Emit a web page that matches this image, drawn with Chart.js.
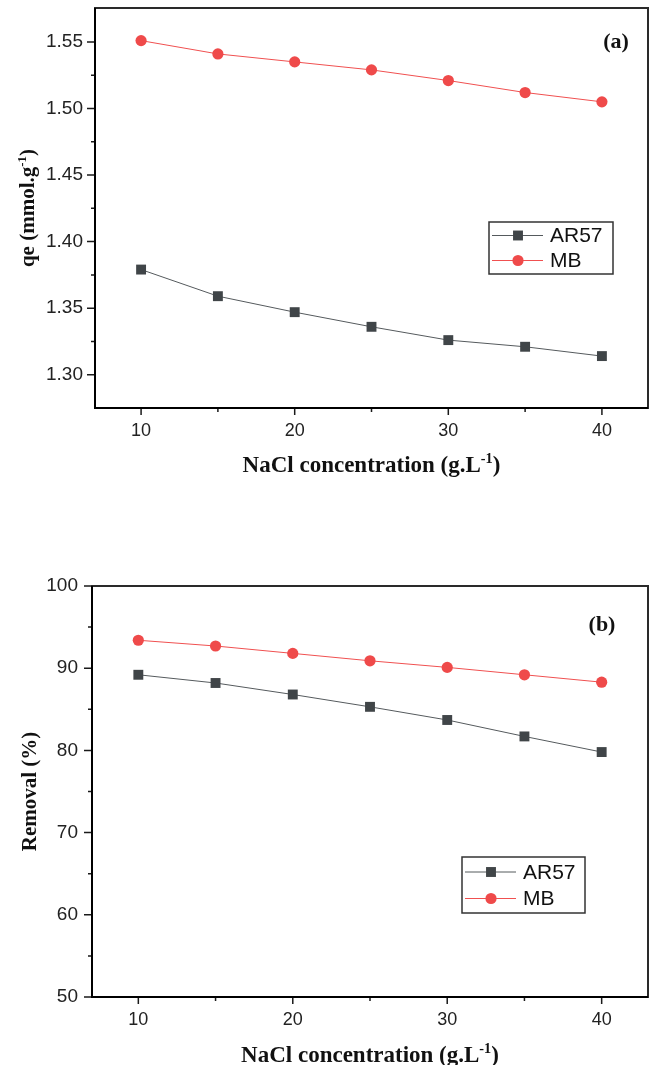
<!DOCTYPE html>
<html>
<head>
<meta charset="utf-8">
<script src="https://cdn.jsdelivr.net/npm/chart.js@4/dist/chart.umd.min.js"></script>
<style>
  body { margin: 0; background: #fff; }
  .panel { position: absolute; left: 0; width: 655px; }
</style>
</head>
<body>
<div class="panel" style="top:0;height:490px"><canvas id="chart-qe" width="655" height="490"></canvas></div>
<div class="panel" style="top:560px;height:505px"><canvas id="chart-removal" width="655" height="505"></canvas></div>
<script>
// NaCl concentration (g/L)
var nacl = [10, 15, 20, 25, 30, 35, 40];
// adsorption capacity qe (mmol/g)
var qeAR57 = [1.379, 1.359, 1.347, 1.336, 1.326, 1.321, 1.314];
var qeMB = [1.551, 1.541, 1.535, 1.529, 1.521, 1.512, 1.505];
// removal (%)
var removalAR57 = [89.2, 88.2, 86.8, 85.3, 83.7, 81.7, 79.8];
var removalMB = [93.4, 92.7, 91.8, 90.9, 90.1, 89.2, 88.3];

var xTicks = [10, 20, 30, 40];
var xMinor = [15, 25, 35];
var qeTicks = [1.30, 1.35, 1.40, 1.45, 1.50, 1.55];
var qeMinor = [1.325, 1.375, 1.425, 1.475, 1.525];
var removalTicks = [50, 60, 70, 80, 90, 100];
var removalMinor = [55, 65, 75, 85, 95];

var SANS = "'Liberation Sans', Arial, sans-serif";
var SERIF = "'Liberation Serif', 'Times New Roman', serif";

// text with a raised "-1" part
function drawRich(ctx, parts, size) {
  var widths = parts.map(function (p) {
    ctx.font = "bold " + (p.sup ? size * 0.62 : size) + "px " + SERIF;
    return ctx.measureText(p.t).width;
  });
  var total = widths.reduce(function (a, b) { return a + b; }, 0);
  var x = -total / 2;
  parts.forEach(function (p, i) {
    ctx.font = "bold " + (p.sup ? size * 0.62 : size) + "px " + SERIF;
    ctx.fillText(p.t, x, p.sup ? -size * 0.38 : 0);
    x += widths[i];
  });
}

var decorations = {
  id: "decorations",
  afterDraw: function (chart, args, o) {
    var ctx = chart.ctx, a = chart.chartArea;
    var xs = chart.scales.x, ys = chart.scales.y;
    ctx.save();

    // tick marks
    ctx.strokeStyle = "#1a1a1a";
    ctx.lineWidth = 1.5;
    ctx.beginPath();
    o.xMajor.forEach(function (v) { var p = xs.getPixelForValue(v); ctx.moveTo(p, a.bottom); ctx.lineTo(p, a.bottom + 7); });
    o.xMinor.forEach(function (v) { var p = xs.getPixelForValue(v); ctx.moveTo(p, a.bottom); ctx.lineTo(p, a.bottom + 4); });
    o.yMajor.forEach(function (v) { var p = ys.getPixelForValue(v); ctx.moveTo(a.left, p); ctx.lineTo(a.left - 8, p); });
    o.yMinor.forEach(function (v) { var p = ys.getPixelForValue(v); ctx.moveTo(a.left, p); ctx.lineTo(a.left - 4, p); });
    ctx.stroke();

    // frame
    ctx.lineWidth = 2;
    ctx.strokeStyle = "#2a2a2a";
    ctx.strokeRect(a.left, a.top, a.right - a.left, a.bottom - a.top);
    ctx.strokeStyle = "#000";
    ctx.beginPath();
    ctx.moveTo(a.left, a.top); ctx.lineTo(a.left, a.bottom); ctx.lineTo(a.right, a.bottom);
    ctx.stroke();

    // axis titles
    ctx.fillStyle = "#111";
    ctx.textBaseline = "alphabetic";
    ctx.textAlign = "left";
    ctx.save();
    ctx.translate((a.left + a.right) / 2, a.bottom + o.xTitleGap);
    drawRich(ctx, o.xTitle, o.xTitleSize);
    ctx.restore();
    ctx.save();
    ctx.translate(o.yTitleX, (a.top + a.bottom) / 2);
    ctx.rotate(-Math.PI / 2);
    drawRich(ctx, o.yTitle, o.yTitleSize);
    ctx.restore();

    // panel letter
    ctx.font = "bold 22px " + SERIF;
    ctx.textAlign = "center";
    ctx.fillText(o.letter.text, o.letter.x, o.letter.y);

    // legend
    var L = o.legend;
    ctx.fillStyle = "#fff";
    ctx.fillRect(L.x, L.y, L.w, L.h);
    ctx.lineWidth = 1.5;
    ctx.strokeStyle = "#333";
    ctx.strokeRect(L.x, L.y, L.w, L.h);
    chart.data.datasets.forEach(function (ds, i) {
      var cy = L.y + L.first + i * L.row;
      ctx.strokeStyle = ds.borderColor;
      ctx.lineWidth = 1;
      ctx.beginPath();
      ctx.moveTo(L.x + 3, cy); ctx.lineTo(L.x + 54, cy);
      ctx.stroke();
      ctx.fillStyle = ds.pointBackgroundColor;
      var mx = L.x + 29;
      if (ds.pointStyle === "rect") {
        var s = ds.pointRadius * Math.SQRT1_2;
        ctx.fillRect(mx - s, cy - s, 2 * s, 2 * s);
      } else {
        ctx.beginPath();
        ctx.arc(mx, cy, ds.pointRadius, 0, Math.PI * 2);
        ctx.fill();
      }
      ctx.fillStyle = "#111";
      ctx.font = "21px " + SANS;
      ctx.textAlign = "left";
      ctx.textBaseline = "middle";
      ctx.fillText(ds.label, L.x + 61, cy + 1);
    });
    ctx.restore();
  }
};

function series(label, values, kind) {
  var red = kind === "MB";
  return {
    label: label,
    data: nacl.map(function (c, i) { return { x: c, y: values[i] }; }),
    borderColor: red ? "#f05050" : "#555a5d",
    borderWidth: 1,
    pointStyle: red ? "circle" : "rect",
    pointRadius: red ? 5.6 : 7,
    pointHoverRadius: red ? 5.6 : 7,
    pointBackgroundColor: red ? "#ef4a4a" : "#404548",
    pointBorderWidth: 0,
    tension: 0
  };
}

function makeChart(id, cfg) {
  return new Chart(document.getElementById(id), {
    type: "line",
    data: { datasets: [series("AR57", cfg.ar57, "AR57"), series("MB", cfg.mb, "MB")] },
    plugins: [decorations],
    options: {
      responsive: false,
      animation: false,
      layout: { padding: { top: cfg.padTop, right: cfg.padRight, left: 0, bottom: 0 } },
      plugins: {
        legend: { display: false },
        tooltip: { enabled: false },
        decorations: cfg.deco
      },
      scales: {
        x: {
          type: "linear", min: 7, max: 43,
          grid: { display: false, drawTicks: false },
          border: { display: false },
          afterBuildTicks: function (s) { s.ticks = xTicks.map(function (v) { return { value: v }; }); },
          afterFit: function (s) { s.height = cfg.xHeight; s.paddingLeft = 0; s.paddingRight = 0; },
          ticks: { padding: cfg.xPad, color: "#222", font: { family: SANS, size: 18 }, maxRotation: 0 }
        },
        y: {
          type: "linear", min: cfg.yMin, max: cfg.yMax,
          grid: { display: false, drawTicks: false },
          border: { display: false },
          afterBuildTicks: function (s) { s.ticks = cfg.yTicks.map(function (v) { return { value: v }; }); },
          afterFit: function (s) { s.width = cfg.yWidth; s.paddingTop = 0; s.paddingBottom = 0; },
          ticks: {
            padding: cfg.yPad, color: "#222", font: { family: SANS, size: 19 },
            callback: cfg.yFormat
          }
        }
      }
    }
  });
}

makeChart("chart-qe", {
  ar57: qeAR57, mb: qeMB,
  yMin: 1.275, yMax: 1.5755, yTicks: qeTicks,
  yFormat: function (v) { return v.toFixed(2); },
  padTop: 8, padRight: 7, xHeight: 82, yWidth: 95, xPad: 12, yPad: 12,
  deco: {
    xMajor: xTicks, xMinor: xMinor, yMajor: qeTicks, yMinor: qeMinor,
    xTitle: [{ t: "NaCl concentration (g.L" }, { t: "-1", sup: true }, { t: ")" }],
    xTitleSize: 23, xTitleGap: 64,
    yTitle: [{ t: "qe (mmol.g" }, { t: "-1", sup: true }, { t: ")" }],
    yTitleSize: 21, yTitleX: 34,
    letter: { text: "(a)", x: 616, y: 48 },
    legend: { x: 489, y: 222, w: 124, h: 52, first: 13.5, row: 25 }
  }
});

makeChart("chart-removal", {
  ar57: removalAR57, mb: removalMB,
  yMin: 50, yMax: 100, yTicks: removalTicks,
  yFormat: function (v) { return String(v); },
  padTop: 26, padRight: 6, xHeight: 68, yWidth: 92, xPad: 12, yPad: 14,
  deco: {
    xMajor: xTicks, xMinor: xMinor, yMajor: removalTicks, yMinor: removalMinor,
    xTitle: [{ t: "NaCl concentration (g.L" }, { t: "-1", sup: true }, { t: ")" }],
    xTitleSize: 23, xTitleGap: 65,
    yTitle: [{ t: "Removal (%)" }],
    yTitleSize: 21, yTitleX: 36,
    letter: { text: "(b)", x: 602, y: 71 },
    legend: { x: 462, y: 297, w: 123, h: 56, first: 15, row: 26.5 }
  }
});
</script>
</body>
</html>
